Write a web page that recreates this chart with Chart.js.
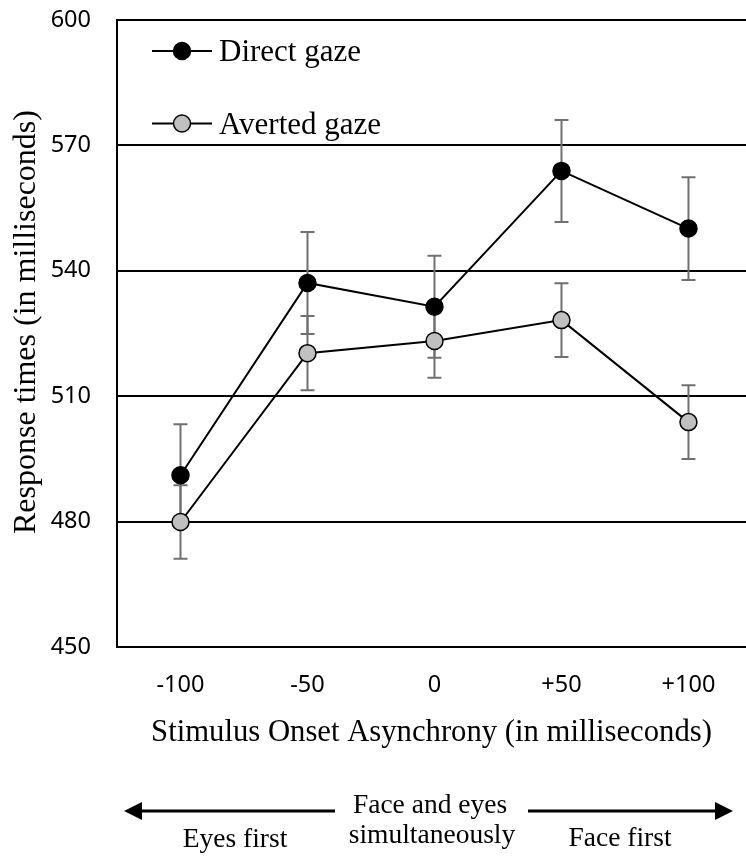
<!DOCTYPE html>
<html>
<head>
<meta charset="utf-8">
<script src="https://cdn.jsdelivr.net/npm/chart.js@4.4.0/dist/chart.umd.min.js"></script>
<style>
  html, body { margin: 0; padding: 0; background: #fff; }
</style>
</head>
<body>
<canvas id="myChart" width="746" height="856"></canvas>
<script>
// Data
const soaLabels = ['-100', '-50', '0', '+50', '+100'];
const directGaze = [491.1, 537.1, 531.4, 563.9, 550.1];
const directErr = [12.2, 12.2, 12.2, 12.2, 12.3];
const avertedGaze = [479.9, 520.3, 523.2, 528.2, 503.8];
const avertedErr = [8.8, 8.9, 8.8, 8.8, 8.8];
const yTicks = [450, 480, 510, 540, 570, 600];

const serif = '"Liberation Serif", "Times New Roman", serif';
const sans = '"Noto Sans", "Open Sans", sans-serif';

const toPoints = (arr) => arr.map((v, i) => ({ x: i, y: v }));

// error bars behind the markers
const errorBars = {
  id: 'errorBars',
  beforeDatasetsDraw(chart) {
    const { ctx } = chart;
    const yScale = chart.scales.y;
    chart.data.datasets.forEach((ds, i) => {
      const meta = chart.getDatasetMeta(i);
      ctx.save();
      ctx.strokeStyle = '#707070';
      ctx.lineWidth = 2;
      meta.data.forEach((pt, j) => {
        const v = ds.data[j].y;
        const e = ds.errors[j];
        const top = yScale.getPixelForValue(v + e);
        const bot = yScale.getPixelForValue(v - e);
        ctx.beginPath();
        ctx.moveTo(pt.x, top);
        ctx.lineTo(pt.x, bot);
        ctx.moveTo(pt.x - 7, top);
        ctx.lineTo(pt.x + 7, top);
        ctx.moveTo(pt.x - 7, bot);
        ctx.lineTo(pt.x + 7, bot);
        ctx.stroke();
      });
      ctx.restore();
    });
  }
};

// legend inside the plot, line + marker + label
const gazeLegend = {
  id: 'gazeLegend',
  afterDraw(chart) {
    const { ctx, chartArea } = chart;
    chart.data.datasets.forEach((ds, i) => {
      const y = chartArea.top + 31 + i * 72.5;
      const x = chartArea.left + 35;
      ctx.save();
      ctx.strokeStyle = '#000';
      ctx.lineWidth = 2;
      ctx.beginPath();
      ctx.moveTo(x, y);
      ctx.lineTo(x + 60, y);
      ctx.stroke();
      ctx.beginPath();
      ctx.arc(x + 30, y, 8.5, 0, Math.PI * 2);
      ctx.fillStyle = ds.pointBackgroundColor;
      ctx.fill();
      ctx.lineWidth = 1.5;
      ctx.stroke();
      ctx.fillStyle = '#000';
      ctx.font = '31px ' + serif;
      ctx.textAlign = 'left';
      ctx.textBaseline = 'alphabetic';
      ctx.fillText(ds.label, x + 67, y + 10);
      ctx.restore();
    });
  }
};

// y title (sits a little above the plot centre in the original)
const yTitle = {
  id: 'yTitle',
  afterDraw(chart) {
    const { ctx } = chart;
    ctx.save();
    ctx.translate(35, 322);
    ctx.rotate(-Math.PI / 2);
    ctx.fillStyle = '#000';
    ctx.font = '32px ' + serif;
    ctx.textAlign = 'center';
    ctx.textBaseline = 'alphabetic';
    ctx.fillText('Response times (in milliseconds)', 0, 0);
    ctx.restore();
  }
};

// arrows and direction notes under the axis title
const directionNotes = {
  id: 'directionNotes',
  afterDraw(chart) {
    const { ctx } = chart;
    const ay = 811;
    ctx.save();
    ctx.strokeStyle = '#000';
    ctx.fillStyle = '#000';
    ctx.lineWidth = 3;
    // left arrow
    ctx.beginPath();
    ctx.moveTo(335, ay);
    ctx.lineTo(140, ay);
    ctx.stroke();
    ctx.beginPath();
    ctx.moveTo(124, ay);
    ctx.lineTo(142, ay - 9);
    ctx.lineTo(142, ay + 9);
    ctx.closePath();
    ctx.fill();
    // right arrow
    ctx.beginPath();
    ctx.moveTo(528, ay);
    ctx.lineTo(717, ay);
    ctx.stroke();
    ctx.beginPath();
    ctx.moveTo(733, ay);
    ctx.lineTo(715, ay - 9);
    ctx.lineTo(715, ay + 9);
    ctx.closePath();
    ctx.fill();

    ctx.font = '27.5px ' + serif;
    ctx.textAlign = 'center';
    ctx.textBaseline = 'alphabetic';
    ctx.fillText('Face and eyes', 430, 813);
    ctx.fillText('simultaneously', 432, 843);
    ctx.fillText('Eyes first', 235, 847);
    ctx.fillText('Face first', 620, 846);
    ctx.restore();
  }
};

const ctx = document.getElementById('myChart').getContext('2d');
const gazeChart = new Chart(ctx, {
  type: 'line',
  data: {
    datasets: [
      {
        label: 'Direct gaze',
        data: toPoints(directGaze),
        errors: directErr,
        borderColor: '#000',
        borderWidth: 2,
        pointRadius: 8.5,
        pointBackgroundColor: '#000',
        pointBorderColor: '#000',
        pointBorderWidth: 1.5,
        tension: 0,
      },
      {
        label: 'Averted gaze',
        data: toPoints(avertedGaze),
        errors: avertedErr,
        borderColor: '#000',
        borderWidth: 2,
        pointRadius: 8.5,
        pointBackgroundColor: '#c0c0c0',
        pointBorderColor: '#000',
        pointBorderWidth: 1.5,
        tension: 0,
      },
    ],
  },
  options: {
    responsive: false,
    animation: false,
    events: [],
    layout: { autoPadding: false, padding: { top: 20, right: 0, bottom: 0, left: 0 } },
    plugins: {
      legend: { display: false },
      tooltip: { enabled: false },
    },
    scales: {
      x: {
        type: 'linear',
        min: -0.5,
        max: 4.453,
        afterBuildTicks: (axis) => {
          axis.ticks = soaLabels.map((l, i) => ({ value: i }));
        },
        afterFit: (axis) => {
          axis.height = 209;
          axis.paddingLeft = 0;
          axis.paddingRight = 0;
        },
        ticks: {
          callback: (v) => soaLabels[v] ?? '',
          autoSkip: false,
          maxRotation: 0,
          padding: 24,
          color: '#000',
          font: { family: sans, size: 23.5 },
        },
        grid: { display: false, drawTicks: false },
        border: { display: true, color: '#000', width: 2 },
        title: {
          display: true,
          text: 'Stimulus Onset Asynchrony (in milliseconds)',
          color: '#000',
          font: { family: serif, size: 30.7 },
          padding: { top: 0, bottom: 105 },
        },
      },
      y: {
        min: 450,
        max: 600,
        afterBuildTicks: (axis) => {
          axis.ticks = yTicks.map((v) => ({ value: v }));
        },
        afterFit: (axis) => {
          axis.width = 117;
          axis.paddingTop = 0;
          axis.paddingBottom = 0;
        },
        ticks: {
          padding: 26,
          color: '#000',
          font: { family: sans, size: 23.5 },
        },
        grid: { color: '#000', lineWidth: 2, drawTicks: false },
        border: { display: true, color: '#000', width: 2 },
        title: { display: false },
      },
    },
  },
  plugins: [errorBars, gazeLegend, yTitle, directionNotes],
});
</script>
</body>
</html>
